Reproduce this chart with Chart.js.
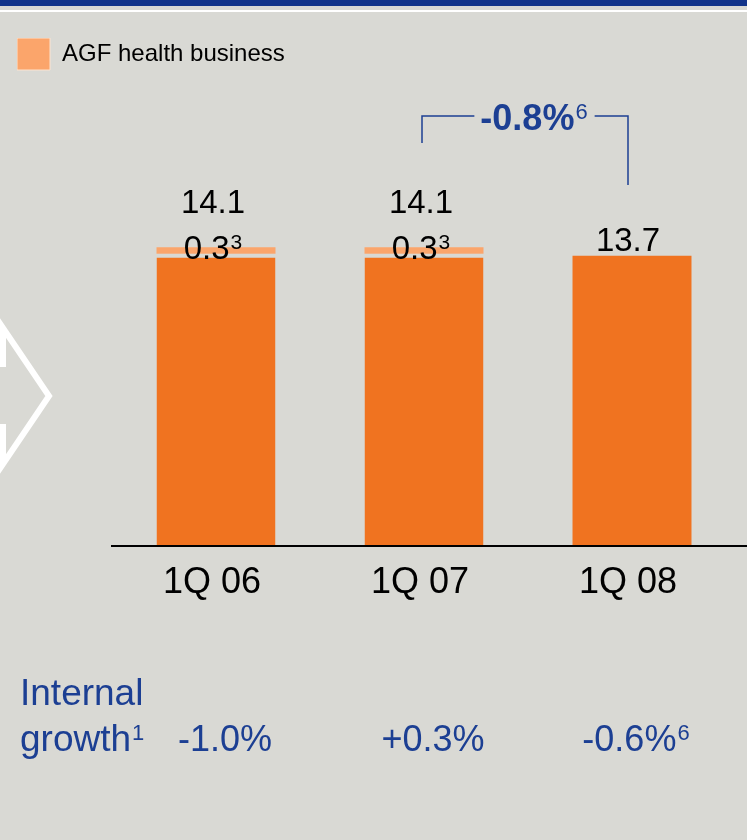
<!DOCTYPE html>
<html>
<head>
<meta charset="utf-8">
<script src="https://cdn.jsdelivr.net/npm/chart.js@4.4.1/dist/chart.umd.min.js"></script>
<style>
  html, body { margin: 0; padding: 0; background: #d9d9d4; }
  #wrap { position: relative; width: 747px; height: 840px; }
</style>
</head>
<body>
<div id="wrap"><canvas id="healthChart" width="747" height="840"></canvas></div>
<script>
// values
const quarters = ['1Q 06', '1Q 07', '1Q 08'];
const coreHealth = [13.8, 13.8, 13.7];
const agfHealth = [0.3, 0.3, 0];
const totalLabels = ['14.1', '14.1', '13.7'];
const agfLabels = ['0.3', '0.3', ''];
const agfNote = '3';
const growthLabels = ['-1.0%', '+0.3%', '-0.6%'];
const growthNotes = ['', '', '6'];
const changeLabel = '-0.8%';
const changeNote = '6';

const FONT = "'Liberation Sans', Arial, sans-serif";
const BG = '#d9d9d4';
const NAVY = '#1c3f93';

function textWithNote(ctx, txt, note, x, y, size, noteSize, weight, align) {
  ctx.font = weight + ' ' + size + 'px ' + FONT;
  const w1 = ctx.measureText(txt).width;
  ctx.font = 'normal ' + noteSize + 'px ' + FONT;
  const w2 = note ? ctx.measureText(note).width + 1 : 0;
  const x0 = align === 'center' ? x - (w1 + w2) / 2 : x;
  ctx.textAlign = 'left';
  ctx.textBaseline = 'alphabetic';
  ctx.font = weight + ' ' + size + 'px ' + FONT;
  ctx.fillText(txt, x0, y);
  if (note) {
    ctx.font = 'normal ' + noteSize + 'px ' + FONT;
    ctx.fillText(note, x0 + w1 + 1, y - size * 0.3);
  }
  return { left: x0, right: x0 + w1 + w2 };
}

const decor = {
  id: 'decor',
  beforeDraw(chart) {
    const { ctx, width, height } = chart;
    ctx.save();
    ctx.fillStyle = BG;
    ctx.fillRect(0, 0, width, height);
    ctx.fillStyle = '#12348a';
    ctx.fillRect(0, 0, width, 6);
    ctx.fillStyle = '#ffffff';
    ctx.fillRect(0, 10, width, 2);
    // arrow outline left over from the previous panel
    ctx.strokeStyle = '#ffffff';
    ctx.lineWidth = 6;
    ctx.beginPath();
    ctx.moveTo(3, 367);
    ctx.lineTo(3, 328);
    ctx.lineTo(49, 396);
    ctx.lineTo(3, 464);
    ctx.lineTo(3, 424);
    ctx.stroke();
    ctx.restore();
  },
  afterDatasetsDraw(chart) {
    const { ctx, chartArea, scales } = chart;
    const coreMeta = chart.getDatasetMeta(0);
    const agfMeta = chart.getDatasetMeta(1);
    ctx.save();

    // base line
    ctx.fillStyle = '#000';
    ctx.fillRect(chartArea.left - 1, scales.y.getPixelForValue(0) - 1, chart.width, 2);

    // bar labels
    quarters.forEach((q, i) => {
      const core = coreMeta.data[i];
      const agf = agfMeta.data[i];
      ctx.fillStyle = '#000';
      if (agfHealth[i] > 0) {
        textWithNote(ctx, agfLabels[i], agfNote, agf.x - 3, agf.y + 12, 33, 21, 'normal', 'center');
        textWithNote(ctx, totalLabels[i], '', agf.x - 3, agf.y - 34, 33, 21, 'normal', 'center');
      } else {
        textWithNote(ctx, totalLabels[i], '', core.x - 4, core.y - 5, 33, 21, 'normal', 'center');
      }
    });

    // bracket between 1Q 07 and 1Q 08
    const L = coreMeta.data[1].x - 2;
    const R = coreMeta.data[2].x - 4;
    const lineY = 116;
    ctx.fillStyle = NAVY;
    const t = textWithNote(ctx, changeLabel, changeNote, (L + R) / 2 + 9, 130, 36, 22, 'bold', 'center');
    ctx.strokeStyle = NAVY;
    ctx.lineWidth = 1.5;
    ctx.beginPath();
    ctx.moveTo(L, 143);
    ctx.lineTo(L, lineY);
    ctx.lineTo(t.left - 6, lineY);
    ctx.moveTo(t.right + 7, lineY);
    ctx.lineTo(R, lineY);
    ctx.lineTo(R, 185);
    ctx.stroke();

    // internal growth row
    ctx.fillStyle = NAVY;
    textWithNote(ctx, 'Internal', '', 20, 705, 37, 22, 'normal', 'left');
    textWithNote(ctx, 'growth', '1', 20, 751, 37, 22, 'normal', 'left');
    quarters.forEach((q, i) => {
      const shift = growthNotes[i] ? 4 : 9;
      textWithNote(ctx, growthLabels[i], growthNotes[i], coreMeta.data[i].x + shift, 751, 36, 22, 'normal', 'center');
    });
    ctx.restore();
  }
};

new Chart(document.getElementById('healthChart').getContext('2d'), {
  type: 'bar',
  data: {
    labels: quarters,
    datasets: [{
      label: 'Health',
      data: coreHealth,
      backgroundColor: '#f07320',
      borderColor: BG,
      borderWidth: (c) => agfHealth[c.dataIndex] > 0 ? { top: 4, left: 0, right: 0, bottom: 0 } : 0,
      categoryPercentage: 1,
      barPercentage: 0.572
    }, {
      label: 'AGF health business',
      data: agfHealth,
      backgroundColor: '#fba56b',
      borderWidth: 0,
      categoryPercentage: 1,
      barPercentage: 0.572
    }]
  },
  options: {
    responsive: false,
    animation: false,
    layout: { padding: { left: 17, top: 38, right: 11, bottom: 0 } },
    plugins: {
      tooltip: { enabled: false },
      legend: {
        display: true,
        position: 'top',
        align: 'start',
        labels: {
          boxWidth: 33,
          boxHeight: 32,
          padding: 0,
          color: '#000',
          font: { family: FONT, size: 24 },
          filter: (item) => item.datasetIndex === 1,
          generateLabels(chart) {
            return Chart.defaults.plugins.legend.labels.generateLabels(chart)
              .map((l) => Object.assign(l, { strokeStyle: '#fde3cf', lineWidth: 1 }));
          }
        }
      }
    },
    scales: {
      x: {
        stacked: true,
        grid: { display: false, drawTicks: false },
        border: { display: false },
        ticks: { color: '#000', padding: 15, labelOffset: -4, font: { family: FONT, size: 36 } },
        afterFit: (s) => { s.height = 294; }
      },
      y: {
        stacked: true,
        min: 0,
        max: 22,
        grid: { display: false, drawTicks: false },
        border: { display: false },
        ticks: { display: false },
        afterFit: (s) => { s.width = 95; }
      }
    }
  },
  plugins: [decor]
});
</script>
</body>
</html>
